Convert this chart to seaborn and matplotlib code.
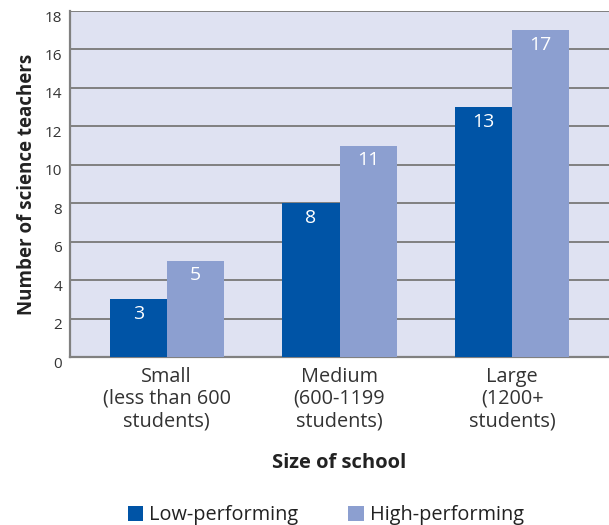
import matplotlib
matplotlib.use("Agg")
import matplotlib.pyplot as plt
import matplotlib.transforms as mtransforms
import seaborn as sns
import pandas as pd

categories = ["Small\n(less than 600\nstudents)", "Medium\n(600-1199\nstudents)", "Large\n(1200+\nstudents)"]
series_names = ["Low-performing", "High-performing"]
low_values = [3, 8, 13]
high_values = [5, 11, 17]
y_ticks = [0, 2, 4, 6, 8, 10, 12, 14, 16, 18]

colors = ["#0054A6", "#8C9FD0"]
bg = "#DFE2F2"
grid_c = "#808080"

sns.set_theme(style="white")
plt.rcParams["font.family"] = ["Open Sans", "DejaVu Sans"]

df = pd.DataFrame({
    "cat": categories * 2,
    "series": [series_names[0]] * 3 + [series_names[1]] * 3,
    "value": low_values + high_values,
})

fig = plt.figure(figsize=(6.09, 5.25), dpi=100)
ax = fig.add_axes([70 / 609, 1 - 357 / 525, 1 - 70 / 609, (357 - 11) / 525])
ax.set_facecolor(bg)

sns.barplot(data=df, x="cat", y="value", hue="series", palette=colors,
            width=0.66, saturation=1, ax=ax, legend=False, zorder=3)

for p in ax.patches:
    p.set_edgecolor("none")

ax.set_ylim(0, 18)
ax.set_xlim(-0.56, 2.56)
ax.set_yticks(y_ticks)
ax.yaxis.grid(True, color=grid_c, linewidth=1.4, zorder=0)
ax.set_axisbelow(True)

for s in ["top", "right"]:
    ax.spines[s].set_visible(False)
for s in ["left", "bottom"]:
    ax.spines[s].set_color(grid_c)
    ax.spines[s].set_linewidth(1.6)

ax.tick_params(axis="y", length=0, pad=5.5, labelsize=11, labelcolor="#333333")
ax.tick_params(axis="x", length=0, pad=7, labelsize=14.3, labelcolor="#333333")
offset = mtransforms.ScaledTranslation(0, -5 / 100, fig.dpi_scale_trans)
for lbl in ax.get_yticklabels():
    lbl.set_transform(lbl.get_transform() + offset)
for lbl in ax.get_xticklabels():
    lbl.set_linespacing(1.15)

for container in ax.containers:
    ax.bar_label(container, labels=[f"{int(v)}" for v in container.datavalues],
                 label_type="edge", padding=-17, color="white", fontsize=14)

ax.set_xlabel("Size of school", fontsize=14.5, fontweight="bold", color="#222222", labelpad=16)
ax.set_ylabel("Number of science teachers", fontsize=13.5, fontweight="bold", color="#222222", labelpad=6)

from matplotlib.patches import Patch
handles = [Patch(facecolor=c, edgecolor="none") for c in colors]
fig.legend(handles, series_names, loc="center", bbox_to_anchor=(0.535, 1 - 515 / 525),
           ncol=2, frameon=False, fontsize=14.3, handlelength=0.8, handleheight=0.8,
           handletextpad=0.3, columnspacing=2.5, labelcolor="#222222")

fig.savefig("out.png", dpi=100)
